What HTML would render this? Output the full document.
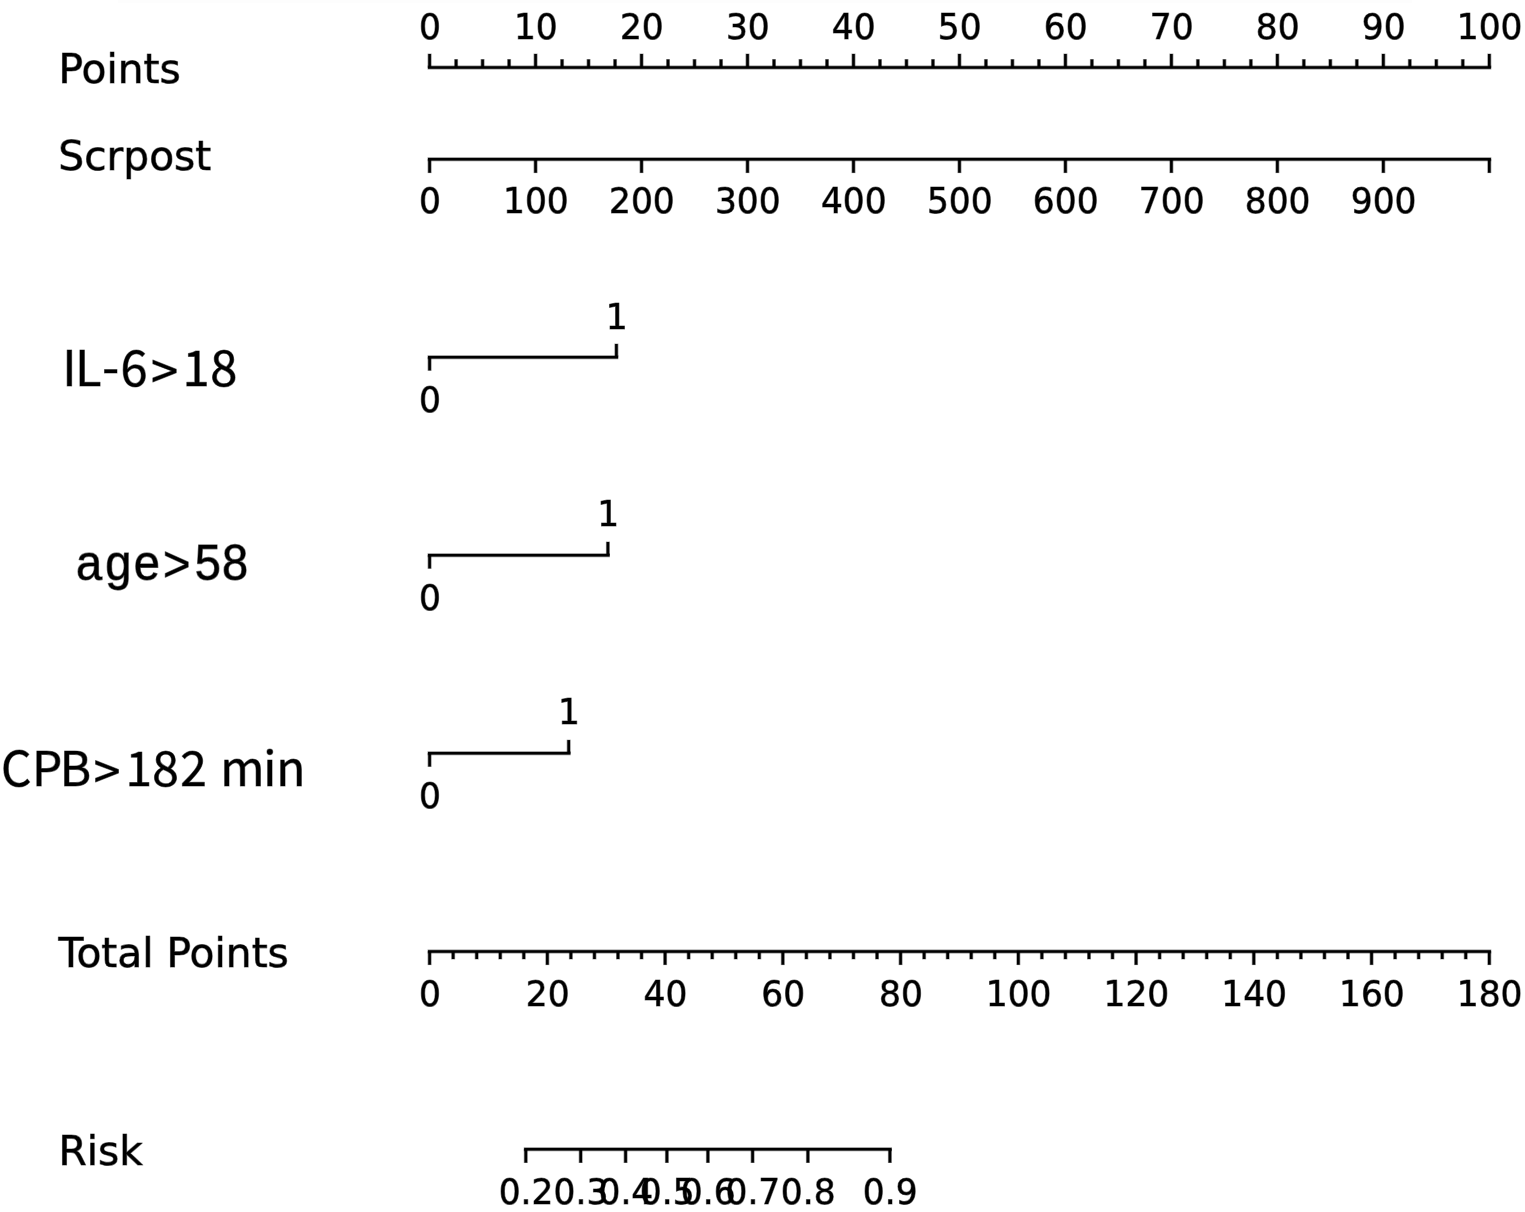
<!DOCTYPE html>
<html lang="en">
<head>
<meta charset="utf-8">
<title>Nomogram</title>
<style>
html,body{margin:0;padding:0;background:#fff;}
body{width:1525px;height:1212px;overflow:hidden;}
svg{display:block;}
line{stroke:#000;fill:none;stroke-linecap:butt;}
.ax line{stroke-width:2.6;}
.halo line{stroke-width:4.0;stroke-opacity:0.45;}
text{fill:#000;stroke:#000;stroke-opacity:0.5;stroke-width:1.1px;stroke-linejoin:round;font-family:'DejaVu Sans', 'Liberation Sans', sans-serif;}
.tk text{font-size:35.5px;text-anchor:middle;}
.alt text{stroke-width:1.0px;}
.alt .cjk{font-family:'Noto Sans CJK SC', 'Liberation Sans', sans-serif;}
.alt .lib{font-family:'Liberation Sans', sans-serif;stroke-width:1.3px;}
</style>
</head>
<body>
<svg width="1525" height="1212" viewBox="0 0 1525 1212">

<rect width="1525" height="1212" fill="#fff"/>
<rect x="118" y="0" width="1294" height="3" fill="#fdfdfd"/>
<g>
<g class="halo">
<line x1="427.60" y1="67.50" x2="1491.30" y2="67.50"/>
<line x1="429.60" y1="67.90" x2="429.60" y2="53.60"/>
<line x1="535.57" y1="67.90" x2="535.57" y2="53.60"/>
<line x1="641.54" y1="67.90" x2="641.54" y2="53.60"/>
<line x1="747.51" y1="67.90" x2="747.51" y2="53.60"/>
<line x1="853.48" y1="67.90" x2="853.48" y2="53.60"/>
<line x1="959.45" y1="67.90" x2="959.45" y2="53.60"/>
<line x1="1065.42" y1="67.90" x2="1065.42" y2="53.60"/>
<line x1="1171.39" y1="67.90" x2="1171.39" y2="53.60"/>
<line x1="1277.36" y1="67.90" x2="1277.36" y2="53.60"/>
<line x1="1383.33" y1="67.90" x2="1383.33" y2="53.60"/>
<line x1="1489.30" y1="67.90" x2="1489.30" y2="53.60"/>
<line x1="456.09" y1="67.90" x2="456.09" y2="59.10"/>
<line x1="482.59" y1="67.90" x2="482.59" y2="59.10"/>
<line x1="509.08" y1="67.90" x2="509.08" y2="59.10"/>
<line x1="562.06" y1="67.90" x2="562.06" y2="59.10"/>
<line x1="588.55" y1="67.90" x2="588.55" y2="59.10"/>
<line x1="615.05" y1="67.90" x2="615.05" y2="59.10"/>
<line x1="668.03" y1="67.90" x2="668.03" y2="59.10"/>
<line x1="694.52" y1="67.90" x2="694.52" y2="59.10"/>
<line x1="721.02" y1="67.90" x2="721.02" y2="59.10"/>
<line x1="774.00" y1="67.90" x2="774.00" y2="59.10"/>
<line x1="800.49" y1="67.90" x2="800.49" y2="59.10"/>
<line x1="826.99" y1="67.90" x2="826.99" y2="59.10"/>
<line x1="879.97" y1="67.90" x2="879.97" y2="59.10"/>
<line x1="906.46" y1="67.90" x2="906.46" y2="59.10"/>
<line x1="932.96" y1="67.90" x2="932.96" y2="59.10"/>
<line x1="985.94" y1="67.90" x2="985.94" y2="59.10"/>
<line x1="1012.43" y1="67.90" x2="1012.43" y2="59.10"/>
<line x1="1038.93" y1="67.90" x2="1038.93" y2="59.10"/>
<line x1="1091.91" y1="67.90" x2="1091.91" y2="59.10"/>
<line x1="1118.40" y1="67.90" x2="1118.40" y2="59.10"/>
<line x1="1144.90" y1="67.90" x2="1144.90" y2="59.10"/>
<line x1="1197.88" y1="67.90" x2="1197.88" y2="59.10"/>
<line x1="1224.38" y1="67.90" x2="1224.38" y2="59.10"/>
<line x1="1250.87" y1="67.90" x2="1250.87" y2="59.10"/>
<line x1="1303.85" y1="67.90" x2="1303.85" y2="59.10"/>
<line x1="1330.34" y1="67.90" x2="1330.34" y2="59.10"/>
<line x1="1356.84" y1="67.90" x2="1356.84" y2="59.10"/>
<line x1="1409.82" y1="67.90" x2="1409.82" y2="59.10"/>
<line x1="1436.31" y1="67.90" x2="1436.31" y2="59.10"/>
<line x1="1462.81" y1="67.90" x2="1462.81" y2="59.10"/>
<line x1="427.60" y1="159.20" x2="1491.30" y2="159.20"/>
<line x1="429.60" y1="158.80" x2="429.60" y2="173.10"/>
<line x1="535.57" y1="158.80" x2="535.57" y2="173.10"/>
<line x1="641.54" y1="158.80" x2="641.54" y2="173.10"/>
<line x1="747.51" y1="158.80" x2="747.51" y2="173.10"/>
<line x1="853.48" y1="158.80" x2="853.48" y2="173.10"/>
<line x1="959.45" y1="158.80" x2="959.45" y2="173.10"/>
<line x1="1065.42" y1="158.80" x2="1065.42" y2="173.10"/>
<line x1="1171.39" y1="158.80" x2="1171.39" y2="173.10"/>
<line x1="1277.36" y1="158.80" x2="1277.36" y2="173.10"/>
<line x1="1383.33" y1="158.80" x2="1383.33" y2="173.10"/>
<line x1="1489.30" y1="158.80" x2="1489.30" y2="173.10"/>
<line x1="427.60" y1="357.20" x2="618.40" y2="357.20"/>
<line x1="429.60" y1="356.80" x2="429.60" y2="370.80"/>
<line x1="616.40" y1="357.60" x2="616.40" y2="343.60"/>
<line x1="427.60" y1="555.20" x2="609.90" y2="555.20"/>
<line x1="429.60" y1="554.80" x2="429.60" y2="568.80"/>
<line x1="607.90" y1="555.60" x2="607.90" y2="541.60"/>
<line x1="427.60" y1="753.30" x2="570.70" y2="753.30"/>
<line x1="429.60" y1="752.90" x2="429.60" y2="766.90"/>
<line x1="568.70" y1="753.70" x2="568.70" y2="739.70"/>
<line x1="427.60" y1="951.50" x2="1491.30" y2="951.50"/>
<line x1="429.60" y1="951.10" x2="429.60" y2="965.10"/>
<line x1="547.34" y1="951.10" x2="547.34" y2="965.10"/>
<line x1="665.09" y1="951.10" x2="665.09" y2="965.10"/>
<line x1="782.83" y1="951.10" x2="782.83" y2="965.10"/>
<line x1="900.58" y1="951.10" x2="900.58" y2="965.10"/>
<line x1="1018.32" y1="951.10" x2="1018.32" y2="965.10"/>
<line x1="1136.07" y1="951.10" x2="1136.07" y2="965.10"/>
<line x1="1253.81" y1="951.10" x2="1253.81" y2="965.10"/>
<line x1="1371.56" y1="951.10" x2="1371.56" y2="965.10"/>
<line x1="1489.30" y1="951.10" x2="1489.30" y2="965.10"/>
<line x1="453.15" y1="951.10" x2="453.15" y2="959.40"/>
<line x1="476.70" y1="951.10" x2="476.70" y2="959.40"/>
<line x1="500.25" y1="951.10" x2="500.25" y2="959.40"/>
<line x1="523.80" y1="951.10" x2="523.80" y2="959.40"/>
<line x1="570.89" y1="951.10" x2="570.89" y2="959.40"/>
<line x1="594.44" y1="951.10" x2="594.44" y2="959.40"/>
<line x1="617.99" y1="951.10" x2="617.99" y2="959.40"/>
<line x1="641.54" y1="951.10" x2="641.54" y2="959.40"/>
<line x1="688.64" y1="951.10" x2="688.64" y2="959.40"/>
<line x1="712.19" y1="951.10" x2="712.19" y2="959.40"/>
<line x1="735.74" y1="951.10" x2="735.74" y2="959.40"/>
<line x1="759.28" y1="951.10" x2="759.28" y2="959.40"/>
<line x1="806.38" y1="951.10" x2="806.38" y2="959.40"/>
<line x1="829.93" y1="951.10" x2="829.93" y2="959.40"/>
<line x1="853.48" y1="951.10" x2="853.48" y2="959.40"/>
<line x1="877.03" y1="951.10" x2="877.03" y2="959.40"/>
<line x1="924.13" y1="951.10" x2="924.13" y2="959.40"/>
<line x1="947.68" y1="951.10" x2="947.68" y2="959.40"/>
<line x1="971.22" y1="951.10" x2="971.22" y2="959.40"/>
<line x1="994.77" y1="951.10" x2="994.77" y2="959.40"/>
<line x1="1041.87" y1="951.10" x2="1041.87" y2="959.40"/>
<line x1="1065.42" y1="951.10" x2="1065.42" y2="959.40"/>
<line x1="1088.97" y1="951.10" x2="1088.97" y2="959.40"/>
<line x1="1112.52" y1="951.10" x2="1112.52" y2="959.40"/>
<line x1="1159.62" y1="951.10" x2="1159.62" y2="959.40"/>
<line x1="1183.16" y1="951.10" x2="1183.16" y2="959.40"/>
<line x1="1206.71" y1="951.10" x2="1206.71" y2="959.40"/>
<line x1="1230.26" y1="951.10" x2="1230.26" y2="959.40"/>
<line x1="1277.36" y1="951.10" x2="1277.36" y2="959.40"/>
<line x1="1300.91" y1="951.10" x2="1300.91" y2="959.40"/>
<line x1="1324.46" y1="951.10" x2="1324.46" y2="959.40"/>
<line x1="1348.01" y1="951.10" x2="1348.01" y2="959.40"/>
<line x1="1395.10" y1="951.10" x2="1395.10" y2="959.40"/>
<line x1="1418.65" y1="951.10" x2="1418.65" y2="959.40"/>
<line x1="1442.20" y1="951.10" x2="1442.20" y2="959.40"/>
<line x1="1465.75" y1="951.10" x2="1465.75" y2="959.40"/>
<line x1="523.80" y1="1149.20" x2="891.90" y2="1149.20"/>
<line x1="525.80" y1="1148.80" x2="525.80" y2="1163.00"/>
<line x1="580.70" y1="1148.80" x2="580.70" y2="1163.00"/>
<line x1="625.60" y1="1148.80" x2="625.60" y2="1163.00"/>
<line x1="666.90" y1="1148.80" x2="666.90" y2="1163.00"/>
<line x1="707.90" y1="1148.80" x2="707.90" y2="1163.00"/>
<line x1="752.60" y1="1148.80" x2="752.60" y2="1163.00"/>
<line x1="807.90" y1="1148.80" x2="807.90" y2="1163.00"/>
<line x1="889.90" y1="1148.80" x2="889.90" y2="1163.00"/>
</g>
<g class="ax">
<line x1="428.00" y1="67.50" x2="1490.90" y2="67.50"/>
<line x1="429.60" y1="67.50" x2="429.60" y2="54.00"/>
<line x1="535.57" y1="67.50" x2="535.57" y2="54.00"/>
<line x1="641.54" y1="67.50" x2="641.54" y2="54.00"/>
<line x1="747.51" y1="67.50" x2="747.51" y2="54.00"/>
<line x1="853.48" y1="67.50" x2="853.48" y2="54.00"/>
<line x1="959.45" y1="67.50" x2="959.45" y2="54.00"/>
<line x1="1065.42" y1="67.50" x2="1065.42" y2="54.00"/>
<line x1="1171.39" y1="67.50" x2="1171.39" y2="54.00"/>
<line x1="1277.36" y1="67.50" x2="1277.36" y2="54.00"/>
<line x1="1383.33" y1="67.50" x2="1383.33" y2="54.00"/>
<line x1="1489.30" y1="67.50" x2="1489.30" y2="54.00"/>
<line x1="456.09" y1="67.50" x2="456.09" y2="59.50"/>
<line x1="482.59" y1="67.50" x2="482.59" y2="59.50"/>
<line x1="509.08" y1="67.50" x2="509.08" y2="59.50"/>
<line x1="562.06" y1="67.50" x2="562.06" y2="59.50"/>
<line x1="588.55" y1="67.50" x2="588.55" y2="59.50"/>
<line x1="615.05" y1="67.50" x2="615.05" y2="59.50"/>
<line x1="668.03" y1="67.50" x2="668.03" y2="59.50"/>
<line x1="694.52" y1="67.50" x2="694.52" y2="59.50"/>
<line x1="721.02" y1="67.50" x2="721.02" y2="59.50"/>
<line x1="774.00" y1="67.50" x2="774.00" y2="59.50"/>
<line x1="800.49" y1="67.50" x2="800.49" y2="59.50"/>
<line x1="826.99" y1="67.50" x2="826.99" y2="59.50"/>
<line x1="879.97" y1="67.50" x2="879.97" y2="59.50"/>
<line x1="906.46" y1="67.50" x2="906.46" y2="59.50"/>
<line x1="932.96" y1="67.50" x2="932.96" y2="59.50"/>
<line x1="985.94" y1="67.50" x2="985.94" y2="59.50"/>
<line x1="1012.43" y1="67.50" x2="1012.43" y2="59.50"/>
<line x1="1038.93" y1="67.50" x2="1038.93" y2="59.50"/>
<line x1="1091.91" y1="67.50" x2="1091.91" y2="59.50"/>
<line x1="1118.40" y1="67.50" x2="1118.40" y2="59.50"/>
<line x1="1144.90" y1="67.50" x2="1144.90" y2="59.50"/>
<line x1="1197.88" y1="67.50" x2="1197.88" y2="59.50"/>
<line x1="1224.38" y1="67.50" x2="1224.38" y2="59.50"/>
<line x1="1250.87" y1="67.50" x2="1250.87" y2="59.50"/>
<line x1="1303.85" y1="67.50" x2="1303.85" y2="59.50"/>
<line x1="1330.34" y1="67.50" x2="1330.34" y2="59.50"/>
<line x1="1356.84" y1="67.50" x2="1356.84" y2="59.50"/>
<line x1="1409.82" y1="67.50" x2="1409.82" y2="59.50"/>
<line x1="1436.31" y1="67.50" x2="1436.31" y2="59.50"/>
<line x1="1462.81" y1="67.50" x2="1462.81" y2="59.50"/>
<line x1="428.00" y1="159.20" x2="1490.90" y2="159.20"/>
<line x1="429.60" y1="159.20" x2="429.60" y2="172.70"/>
<line x1="535.57" y1="159.20" x2="535.57" y2="172.70"/>
<line x1="641.54" y1="159.20" x2="641.54" y2="172.70"/>
<line x1="747.51" y1="159.20" x2="747.51" y2="172.70"/>
<line x1="853.48" y1="159.20" x2="853.48" y2="172.70"/>
<line x1="959.45" y1="159.20" x2="959.45" y2="172.70"/>
<line x1="1065.42" y1="159.20" x2="1065.42" y2="172.70"/>
<line x1="1171.39" y1="159.20" x2="1171.39" y2="172.70"/>
<line x1="1277.36" y1="159.20" x2="1277.36" y2="172.70"/>
<line x1="1383.33" y1="159.20" x2="1383.33" y2="172.70"/>
<line x1="1489.30" y1="159.20" x2="1489.30" y2="172.70"/>
<line x1="428.00" y1="357.20" x2="618.00" y2="357.20"/>
<line x1="429.60" y1="357.20" x2="429.60" y2="370.40"/>
<line x1="616.40" y1="357.20" x2="616.40" y2="344.00"/>
<line x1="428.00" y1="555.20" x2="609.50" y2="555.20"/>
<line x1="429.60" y1="555.20" x2="429.60" y2="568.40"/>
<line x1="607.90" y1="555.20" x2="607.90" y2="542.00"/>
<line x1="428.00" y1="753.30" x2="570.30" y2="753.30"/>
<line x1="429.60" y1="753.30" x2="429.60" y2="766.50"/>
<line x1="568.70" y1="753.30" x2="568.70" y2="740.10"/>
<line x1="428.00" y1="951.50" x2="1490.90" y2="951.50"/>
<line x1="429.60" y1="951.50" x2="429.60" y2="964.70"/>
<line x1="547.34" y1="951.50" x2="547.34" y2="964.70"/>
<line x1="665.09" y1="951.50" x2="665.09" y2="964.70"/>
<line x1="782.83" y1="951.50" x2="782.83" y2="964.70"/>
<line x1="900.58" y1="951.50" x2="900.58" y2="964.70"/>
<line x1="1018.32" y1="951.50" x2="1018.32" y2="964.70"/>
<line x1="1136.07" y1="951.50" x2="1136.07" y2="964.70"/>
<line x1="1253.81" y1="951.50" x2="1253.81" y2="964.70"/>
<line x1="1371.56" y1="951.50" x2="1371.56" y2="964.70"/>
<line x1="1489.30" y1="951.50" x2="1489.30" y2="964.70"/>
<line x1="453.15" y1="951.50" x2="453.15" y2="959.00"/>
<line x1="476.70" y1="951.50" x2="476.70" y2="959.00"/>
<line x1="500.25" y1="951.50" x2="500.25" y2="959.00"/>
<line x1="523.80" y1="951.50" x2="523.80" y2="959.00"/>
<line x1="570.89" y1="951.50" x2="570.89" y2="959.00"/>
<line x1="594.44" y1="951.50" x2="594.44" y2="959.00"/>
<line x1="617.99" y1="951.50" x2="617.99" y2="959.00"/>
<line x1="641.54" y1="951.50" x2="641.54" y2="959.00"/>
<line x1="688.64" y1="951.50" x2="688.64" y2="959.00"/>
<line x1="712.19" y1="951.50" x2="712.19" y2="959.00"/>
<line x1="735.74" y1="951.50" x2="735.74" y2="959.00"/>
<line x1="759.28" y1="951.50" x2="759.28" y2="959.00"/>
<line x1="806.38" y1="951.50" x2="806.38" y2="959.00"/>
<line x1="829.93" y1="951.50" x2="829.93" y2="959.00"/>
<line x1="853.48" y1="951.50" x2="853.48" y2="959.00"/>
<line x1="877.03" y1="951.50" x2="877.03" y2="959.00"/>
<line x1="924.13" y1="951.50" x2="924.13" y2="959.00"/>
<line x1="947.68" y1="951.50" x2="947.68" y2="959.00"/>
<line x1="971.22" y1="951.50" x2="971.22" y2="959.00"/>
<line x1="994.77" y1="951.50" x2="994.77" y2="959.00"/>
<line x1="1041.87" y1="951.50" x2="1041.87" y2="959.00"/>
<line x1="1065.42" y1="951.50" x2="1065.42" y2="959.00"/>
<line x1="1088.97" y1="951.50" x2="1088.97" y2="959.00"/>
<line x1="1112.52" y1="951.50" x2="1112.52" y2="959.00"/>
<line x1="1159.62" y1="951.50" x2="1159.62" y2="959.00"/>
<line x1="1183.16" y1="951.50" x2="1183.16" y2="959.00"/>
<line x1="1206.71" y1="951.50" x2="1206.71" y2="959.00"/>
<line x1="1230.26" y1="951.50" x2="1230.26" y2="959.00"/>
<line x1="1277.36" y1="951.50" x2="1277.36" y2="959.00"/>
<line x1="1300.91" y1="951.50" x2="1300.91" y2="959.00"/>
<line x1="1324.46" y1="951.50" x2="1324.46" y2="959.00"/>
<line x1="1348.01" y1="951.50" x2="1348.01" y2="959.00"/>
<line x1="1395.10" y1="951.50" x2="1395.10" y2="959.00"/>
<line x1="1418.65" y1="951.50" x2="1418.65" y2="959.00"/>
<line x1="1442.20" y1="951.50" x2="1442.20" y2="959.00"/>
<line x1="1465.75" y1="951.50" x2="1465.75" y2="959.00"/>
<line x1="524.20" y1="1149.20" x2="891.50" y2="1149.20"/>
<line x1="525.80" y1="1149.20" x2="525.80" y2="1162.60"/>
<line x1="580.70" y1="1149.20" x2="580.70" y2="1162.60"/>
<line x1="625.60" y1="1149.20" x2="625.60" y2="1162.60"/>
<line x1="666.90" y1="1149.20" x2="666.90" y2="1162.60"/>
<line x1="707.90" y1="1149.20" x2="707.90" y2="1162.60"/>
<line x1="752.60" y1="1149.20" x2="752.60" y2="1162.60"/>
<line x1="807.90" y1="1149.20" x2="807.90" y2="1162.60"/>
<line x1="889.90" y1="1149.20" x2="889.90" y2="1162.60"/>
</g>
<g class="tk">
<text transform="translate(429.90 39.00) scale(0.97 1)">0</text>
<text transform="translate(535.87 39.00) scale(0.97 1)">10</text>
<text transform="translate(641.84 39.00) scale(0.97 1)">20</text>
<text transform="translate(747.81 39.00) scale(0.97 1)">30</text>
<text transform="translate(853.78 39.00) scale(0.97 1)">40</text>
<text transform="translate(959.75 39.00) scale(0.97 1)">50</text>
<text transform="translate(1065.72 39.00) scale(0.97 1)">60</text>
<text transform="translate(1171.69 39.00) scale(0.97 1)">70</text>
<text transform="translate(1277.66 39.00) scale(0.97 1)">80</text>
<text transform="translate(1383.63 39.00) scale(0.97 1)">90</text>
<text transform="translate(1489.60 39.00) scale(0.97 1)">100</text>
<text transform="translate(429.90 213.40) scale(0.97 1)">0</text>
<text transform="translate(535.87 213.40) scale(0.97 1)">100</text>
<text transform="translate(641.84 213.40) scale(0.97 1)">200</text>
<text transform="translate(747.81 213.40) scale(0.97 1)">300</text>
<text transform="translate(853.78 213.40) scale(0.97 1)">400</text>
<text transform="translate(959.75 213.40) scale(0.97 1)">500</text>
<text transform="translate(1065.72 213.40) scale(0.97 1)">600</text>
<text transform="translate(1171.69 213.40) scale(0.97 1)">700</text>
<text transform="translate(1277.66 213.40) scale(0.97 1)">800</text>
<text transform="translate(1383.63 213.40) scale(0.97 1)">900</text>
<text transform="translate(429.90 412.20) scale(0.97 1)">0</text>
<text transform="translate(616.70 328.60) scale(0.97 1)">1</text>
<text transform="translate(429.90 609.90) scale(0.97 1)">0</text>
<text transform="translate(608.20 525.90) scale(0.97 1)">1</text>
<text transform="translate(429.90 808.00) scale(0.97 1)">0</text>
<text transform="translate(569.00 723.70) scale(0.97 1)">1</text>
<text transform="translate(429.90 1006.10) scale(0.97 1)">0</text>
<text transform="translate(547.64 1006.10) scale(0.97 1)">20</text>
<text transform="translate(665.39 1006.10) scale(0.97 1)">40</text>
<text transform="translate(783.13 1006.10) scale(0.97 1)">60</text>
<text transform="translate(900.88 1006.10) scale(0.97 1)">80</text>
<text transform="translate(1018.62 1006.10) scale(0.97 1)">100</text>
<text transform="translate(1136.37 1006.10) scale(0.97 1)">120</text>
<text transform="translate(1254.11 1006.10) scale(0.97 1)">140</text>
<text transform="translate(1371.86 1006.10) scale(0.97 1)">160</text>
<text transform="translate(1489.60 1006.10) scale(0.97 1)">180</text>
<text transform="translate(526.10 1203.60) scale(0.97 1)">0.2</text>
<text transform="translate(581.00 1203.60) scale(0.97 1)">0.3</text>
<text transform="translate(625.90 1203.60) scale(0.97 1)">0.4</text>
<text transform="translate(667.20 1203.60) scale(0.97 1)">0.5</text>
<text transform="translate(708.20 1203.60) scale(0.97 1)">0.6</text>
<text transform="translate(752.90 1203.60) scale(0.97 1)">0.7</text>
<text transform="translate(808.20 1203.60) scale(0.97 1)">0.8</text>
<text transform="translate(890.20 1203.60) scale(0.97 1)">0.9</text>
</g>
<g class="lab">
<text transform="translate(58.43 83.40) scale(0.986 1)" font-size="41.3">Points</text>
<text transform="translate(58.35 170.00) scale(0.986 1)" font-size="41.3">Scrpost</text>
<text transform="translate(58.50 967.00) scale(0.986 1)" font-size="41.3">Total Points</text>
<text transform="translate(58.43 1165.00) scale(0.986 1)" font-size="41.3">Risk</text>
</g>
<g class="alt">
<text class="cjk" transform="translate(62.15 385.90) scale(1.0 1)" font-size="48.8" x="0.00 12.94 40.08 58.31 88.93 120.30 148.11" y="0.0 0.0 -0.7 0.0 3.3 0.0 0.0">IL-6&gt;18</text>
<text class="lib" transform="translate(75.93 579.60) scale(0.93 1)" font-size="50.6" x="0.00 31.50 62.05 93.61 127.81 156.98" y="0.0 0.0 0.0 1.3 0.0 0.0">age&gt;58</text>
<text class="cjk" transform="translate(0.88 785.80) scale(1.0 1)" font-size="47.8" x="0.00 31.00 58.75 92.79 124.56 151.26 179.40 205.93 219.25 262.43 275.33" y="0.0 0.0 0.0 3.3 0.0 0.0 0.0 0.0 0.0 0.0 0.0">CPB&gt;182 min</text>
</g>
</g>
</svg>
</body>
</html>
